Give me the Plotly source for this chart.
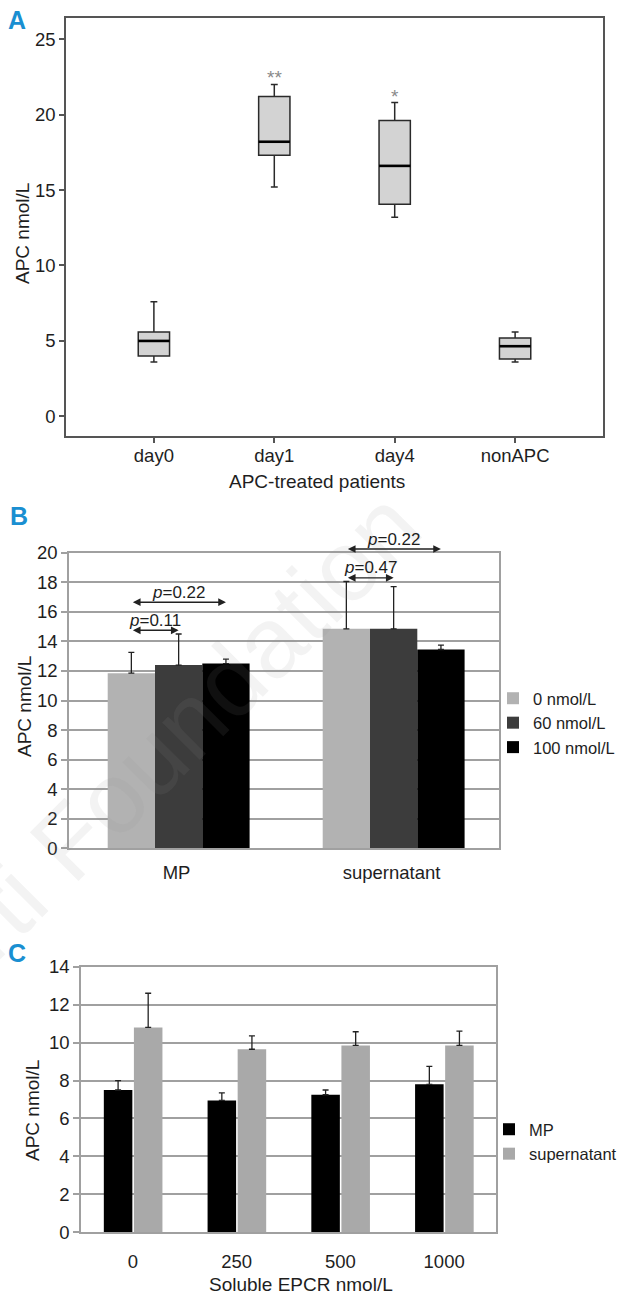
import plotly.graph_objects as go

W, H = 618, 1296
FONT = "Liberation Sans, Arial, Helvetica, sans-serif"
TXT = "#1e1e1e"
BLUE = "#1a8fd1"

# ---------------- Panel A data (box plots) ----------------
a_groups = ["day0", "day1", "day4", "nonAPC"]
a_lower = [3.6, 15.2, 13.2, 3.6]
a_q1 = [4.0, 17.3, 14.05, 3.8]
a_median = [5.0, 18.2, 16.6, 4.65]
a_q3 = [5.6, 21.2, 19.6, 5.2]
a_upper = [7.6, 22.0, 20.8, 5.6]
a_marks = ["", "**", "*", ""]
a_yticks = [0, 5, 10, 15, 20, 25]

# ---------------- Panel B data ----------------
b_groups = ["MP", "supernatant"]
b_series = ["0 nmol/L", "60 nmol/L", "100 nmol/L"]
b_0 = [11.85, 14.85]
b_60 = [12.4, 14.85]
b_100 = [12.5, 13.45]
b_err_0 = [1.4, 3.2]
b_err_60 = [2.1, 2.85]
b_err_100 = [0.3, 0.3]
# p-value comparisons
b_p_group = [0, 0, 1, 1]
b_p_from = [0, 0, 0, 0]
b_p_to = [1, 2, 1, 2]
b_p_level = [14.75, 16.65, 18.3, 20.25]
b_p_text = ["0.11", "0.22", "0.47", "0.22"]

# ---------------- Panel C data ----------------
c_groups = ["0", "250", "500", "1000"]
c_series = ["MP", "supernatant"]
c_mp = [7.5, 6.95, 7.25, 7.8]
c_mp_err = [0.5, 0.4, 0.25, 0.95]
c_sup = [10.8, 9.65, 9.85, 9.85]
c_sup_err = [1.8, 0.7, 0.72, 0.75]

TICK_SIZE = 18.5
TITLE_SIZE = 19
LEGEND_SIZE = 16.5
P_SIZE = 17


def fnt(size, color=TXT):
    return dict(family=FONT, size=size, color=color)


def xdom(l, r):
    return [l / W, r / W]


def ydom(t, b):
    return [1 - b / H, 1 - t / H]


def px(x):
    return x / W


def py(y):
    return 1 - y / H


A_X, A_Y = xdom(66, 603), ydom(18, 436)
B_X, B_Y = xdom(69, 499), ydom(552.7, 848.3)
C_X, C_Y = xdom(81, 496), ydom(966.7, 1232.3)
B_RANGE = [0, 20]

fig = go.Figure()

# ---------- A ----------
a_pos = list(range(len(a_groups)))
BOX_W = 0.26
fig.add_trace(go.Box(
    x=a_pos, q1=a_q1, median=a_median, q3=a_q3,
    lowerfence=a_lower, upperfence=a_upper,
    width=BOX_W, whiskerwidth=0.22, fillcolor="#d3d3d3",
    line=dict(color="#2a2a2a", width=1.5), boxpoints=False,
    showlegend=False, hoverinfo="skip", xaxis="x", yaxis="y"))
mx, my = [], []
for i, m in zip(a_pos, a_median):
    mx += [i - BOX_W / 2, i + BOX_W / 2, None]
    my += [m, m, None]
fig.add_trace(go.Scatter(x=mx, y=my, mode="lines",
                         line=dict(color="#000000", width=2.6),
                         showlegend=False, hoverinfo="skip",
                         xaxis="x", yaxis="y"))

# ---------- B ----------
B_BW = 0.22
b_vals = [b_0, b_60, b_100]
b_errs = [b_err_0, b_err_60, b_err_100]
b_colors = ["#b2b2b2", "#3c3c3c", "#000000"]
b_off = [(k - 1.5) * B_BW + 0.01 for k in range(3)]
b_pos = list(range(len(b_groups)))
for k in range(3):
    fig.add_trace(go.Bar(
        x=b_pos, y=b_vals[k], width=B_BW, offset=b_off[k],
        marker=dict(color=b_colors[k], line=dict(width=0)),
        name=b_series[k],
        error_y=dict(type="data", array=b_errs[k],
                     arrayminus=[0] * len(b_pos), symmetric=False,
                     color="#222222", thickness=1.3, width=3),
        xaxis="x2", yaxis="y2", legend="legend", hoverinfo="skip"))

# ---------- C ----------
C_BW = 0.275
c_vals = [c_mp, c_sup]
c_errs = [c_mp_err, c_sup_err]
c_colors = ["#000000", "#a9a9a9"]
c_off = [-0.28, 0.01]
c_pos = list(range(len(c_groups)))
for k in range(2):
    fig.add_trace(go.Bar(
        x=c_pos, y=c_vals[k], width=C_BW, offset=c_off[k],
        marker=dict(color=c_colors[k], line=dict(width=0)),
        name=c_series[k],
        error_y=dict(type="data", array=c_errs[k],
                     arrayminus=[0] * len(c_pos), symmetric=False,
                     color="#222222", thickness=1.3, width=3),
        xaxis="x3", yaxis="y3", legend="legend2", hoverinfo="skip"))

# ---------- annotations ----------
ann = []
# faint journal watermark
ann.append(dict(text="Ferrata Storti Foundation", x=px(9), y=py(901),
                xref="paper", yref="paper", showarrow=False, textangle=-45,
                xanchor="center", yanchor="middle",
                font=dict(family=FONT, size=100,
                          color="rgba(150,150,150,0.11)")))
# panel letters
for lab, (lx, ly) in zip(["A", "B", "C"], [(17, 20), (19, 516), (17, 953)]):
    ann.append(dict(text="<b>%s</b>" % lab, x=px(lx), y=py(ly), xref="paper",
                    yref="paper", showarrow=False, xanchor="center",
                    yanchor="middle", font=fnt(25, BLUE)))
# axis titles
titles = [
    ("APC nmol/L", 22, 234, -90),
    ("APC-treated patients", 317, 481, 0),
    ("APC nmol/L", 24, 706, -90),
    ("APC nmol/L", 32, 1111, -90),
    ("Soluble EPCR nmol/L", 301, 1284, 0),
]
for t, tx, ty, ang in titles:
    ann.append(dict(text=t, x=px(tx), y=py(ty), xref="paper", yref="paper",
                    showarrow=False, textangle=ang, xanchor="center",
                    yanchor="middle", font=fnt(TITLE_SIZE)))
# significance stars
for i, (mk, up) in enumerate(zip(a_marks, a_upper)):
    if mk:
        ann.append(dict(text=mk, x=i, y=up, xref="x", yref="y",
                        showarrow=False, yanchor="bottom", yshift=-6,
                        font=fnt(19, "#8a8a8a")))


def b_paper(v):
    return B_Y[0] + (v - B_RANGE[0]) / (B_RANGE[1] - B_RANGE[0]) * (B_Y[1] - B_Y[0])


for g, fa, tb, lvl, txt in zip(b_p_group, b_p_from, b_p_to, b_p_level, b_p_text):
    x0 = g + b_off[fa] + B_BW / 2
    x1 = g + b_off[tb] + B_BW / 2
    ann.append(dict(text="", x=x1, y=b_paper(lvl), xref="x2", yref="paper",
                    ax=x0, axref="x2", ay=0, ayref="pixel",
                    showarrow=True, arrowhead=2, arrowside="end+start",
                    arrowsize=1.1, arrowwidth=1.4, arrowcolor="#222222",
                    standoff=0, startstandoff=0))
    ann.append(dict(text="<i>p</i>=" + txt, x=(x0 + x1) / 2, y=b_paper(lvl),
                    xref="x2", yref="paper", showarrow=False,
                    yanchor="middle", yshift=10, font=fnt(P_SIZE)))

grid_axis = dict(ticks="outside", ticklen=6, tickwidth=1.5, tickcolor="#a0a0a0",
                 showline=True, linecolor="#a0a0a0", linewidth=1.5, mirror=True,
                 showgrid=True, gridcolor="#a0a0a0", gridwidth=1.5,
                 zeroline=False, fixedrange=True, automargin=False,
                 tickfont=fnt(TICK_SIZE))
plain_axis = dict(showgrid=False, zeroline=False, fixedrange=True,
                  automargin=False, tickfont=fnt(TICK_SIZE))

fig.update_layout(
    template="none",
    width=W, height=H,
    margin=dict(l=0, r=0, t=0, b=0, pad=0, autoexpand=False),
    paper_bgcolor="white", plot_bgcolor="white", barmode="overlay",
    font=fnt(TICK_SIZE), showlegend=True,
    annotations=ann,
    xaxis=dict(domain=A_X, anchor="y", range=[-0.73, 3.73], tickmode="array",
               tickvals=a_pos, ticktext=a_groups, ticks="outside", ticklen=5,
               tickwidth=1.5, tickcolor="#555555", showline=True,
               linecolor="#555555", linewidth=1.5, mirror=True,
               ticklabelstandoff=-3, **plain_axis),
    yaxis=dict(domain=A_Y, anchor="x", range=[-1.3, 26.4], tickmode="array",
               tickvals=a_yticks, ticks="outside", ticklen=5, tickwidth=1.5,
               tickcolor="#555555", showline=True, linecolor="#555555",
               linewidth=1.5, mirror=True, **plain_axis),
    xaxis2=dict(domain=B_X, anchor="y2", range=[-0.5, 1.5], tickmode="array",
                tickvals=b_pos, ticktext=b_groups, ticks="", showline=True,
                linecolor="#a0a0a0", linewidth=1.5, mirror=True,
                ticklabelstandoff=7, **plain_axis),
    yaxis2=dict(domain=B_Y, anchor="x2", range=B_RANGE, dtick=2, tick0=0,
                **grid_axis),
    xaxis3=dict(domain=C_X, anchor="y3", range=[-0.5, 3.5], tickmode="array",
                tickvals=c_pos, ticktext=c_groups, ticks="", showline=True,
                linecolor="#a0a0a0", linewidth=1.5, mirror=True,
                ticklabelstandoff=12, **plain_axis),
    yaxis3=dict(domain=C_Y, anchor="x3", range=[0, 14], dtick=2, tick0=0,
                **grid_axis),
    legend=dict(x=px(493), y=py(681), xanchor="left", yanchor="top",
                bgcolor="rgba(0,0,0,0)", font=fnt(LEGEND_SIZE),
                itemwidth=30, tracegroupgap=0),
    legend2=dict(x=px(489), y=py(1112), xanchor="left", yanchor="top",
                 bgcolor="rgba(0,0,0,0)", font=fnt(LEGEND_SIZE),
                 itemwidth=30, tracegroupgap=0),
)

fig.write_html("out.html", config={"displayModeBar": False},
               post_script="document.body.style.margin='0px';")
